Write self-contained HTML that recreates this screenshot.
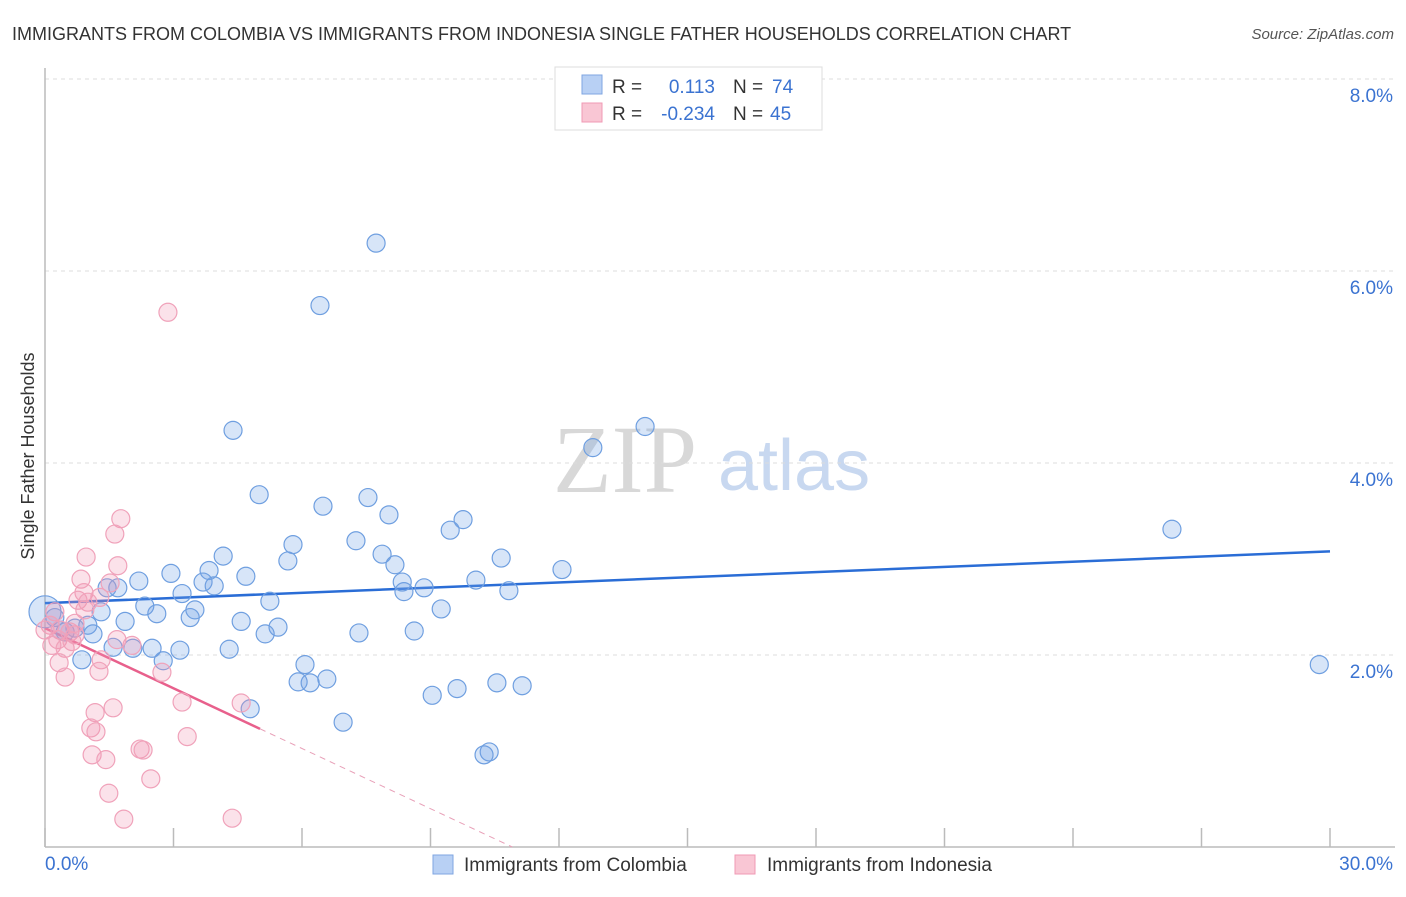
<!DOCTYPE html>
<html><head><meta charset="utf-8"><style>
body{margin:0;background:#fff;font-family:"Liberation Sans",sans-serif}
svg text{font-family:"Liberation Sans",sans-serif}
</style></head><body>
<svg id="chart" width="1406" height="892" viewBox="0 0 1406 892" xmlns="http://www.w3.org/2000/svg">
<text x="12" y="40" font-size="18" fill="#333">IMMIGRANTS FROM COLOMBIA VS IMMIGRANTS FROM INDONESIA SINGLE FATHER HOUSEHOLDS CORRELATION CHART</text>
<text x="1394" y="39" font-size="15" fill="#555" font-style="italic" text-anchor="end">Source: ZipAtlas.com</text>
<g>
<text x="553" y="492" font-size="96" fill="#d8d8d8" font-family="Liberation Serif" style="font-family:'Liberation Serif',serif">ZIP</text>
<text x="718" y="490" font-size="72" fill="#c8d8f0">atlas</text>
</g>
<g id="grid"></g>
<g id="axes"></g>
<text transform="translate(34,456) rotate(-90)" font-size="18" fill="#333" text-anchor="middle">Single Father Households</text>
<g id="trend"></g>
<g id="points"></g>
<g>
<rect x="555" y="67" width="267" height="63" fill="#fff" stroke="#ddd"/>
<rect x="582" y="75" width="20" height="19" fill="#b8d0f4" stroke="#7fa6e2"/>
<rect x="582" y="103" width="20" height="19" fill="#f9c6d4" stroke="#f09ab4"/>
<text x="612" y="93" font-size="19" fill="#333">R =</text>
<text x="715" y="93" font-size="19" fill="#3b73d1" text-anchor="end">0.113</text>
<text x="733" y="93" font-size="19" fill="#333">N =</text>
<text x="772" y="93" font-size="19" fill="#3b73d1">74</text>
<text x="612" y="120" font-size="19" fill="#333">R =</text>
<text x="715" y="120" font-size="19" fill="#3b73d1" text-anchor="end">-0.234</text>
<text x="733" y="120" font-size="19" fill="#333">N =</text>
<text x="770" y="120" font-size="19" fill="#3b73d1">45</text>
</g>
<g>
<rect x="433" y="855" width="20" height="19" fill="#b8d0f4" stroke="#7fa6e2"/>
<text x="464" y="871" font-size="19" fill="#333">Immigrants from Colombia</text>
<rect x="735" y="855" width="20" height="19" fill="#f9c6d4" stroke="#f09ab4"/>
<text x="767" y="871" font-size="19" fill="#333">Immigrants from Indonesia</text>
</g>
</svg>
<script>
const blueX=[7.73,6.42,4.39,14.01,12.79,5.00,6.49,7.54,8.03,9.76,9.46,7.26,5.79,7.87,10.65,5.67,4.16,8.17,12.07,2.94,3.83,4.69,2.19,3.69,3.95,10.06,8.34,8.85,8.38,10.83,3.20,1.70,1.45,5.25,2.33,3.50,9.25,1.31,2.61,3.39,4.58,1.87,5.44,1.00,1.12,5.14,7.33,8.62,0.35,0.47,0.23,3.15,2.50,1.59,2.05,4.30,2.76,0.86,6.07,5.91,6.19,6.58,10.55,9.62,9.04,11.14,6.96,4.79,10.37,10.25,26.31,29.75,0.70,0.0];
const blueY=[6.29,5.64,4.34,4.38,4.16,3.67,3.55,3.64,3.46,3.41,3.30,3.19,3.15,3.05,3.01,2.98,3.03,2.94,2.89,2.85,2.88,2.82,2.77,2.76,2.72,2.78,2.76,2.70,2.66,2.67,2.64,2.70,2.70,2.56,2.51,2.47,2.48,2.45,2.43,2.39,2.35,2.35,2.29,2.31,2.22,2.22,2.23,2.25,2.26,2.24,2.39,2.05,2.07,2.08,2.07,2.06,1.94,1.95,1.90,1.72,1.71,1.75,1.71,1.65,1.58,1.68,1.30,1.44,0.99,0.96,3.31,1.90,2.28,2.45];
const pinkX=[2.87,1.77,1.63,0.96,1.70,0.84,1.52,0.91,0.77,1.28,1.00,0.23,0.12,0.35,0.58,0.70,0.30,0.16,0.47,0.63,2.03,1.68,1.31,0.33,2.73,1.26,0.47,4.58,3.20,1.59,1.17,1.07,1.19,3.32,1.10,2.22,2.29,1.42,2.47,1.49,1.84,4.37,0.93,0.70,0.0];
const pinkY=[5.57,3.42,3.26,3.02,2.93,2.79,2.75,2.65,2.57,2.60,2.55,2.45,2.31,2.26,2.24,2.21,2.16,2.10,2.07,2.14,2.10,2.16,1.95,1.92,1.82,1.83,1.77,1.50,1.51,1.45,1.40,1.24,1.20,1.15,0.96,1.02,1.01,0.91,0.71,0.56,0.29,0.30,2.47,2.33,2.26];
const blueTrend=[2.54,3.08];   // y at x=0 and x=30
const pinkTrend=[2.28,-0.209]; // intercept, slope
const pinkSolidEnd=5.02;
const xTicks=[0,3,6,9,12,15,18,21,24,27,30];
const yTicks=[2,4,6,8];
const yTickLabels=["2.0%","4.0%","6.0%","8.0%"];

const X0=45,X1=1330,Y0=847,PXY=96;
const sx=v=>X0+(X1-X0)*v/30;
const sy=v=>Y0-v*PXY;
const NS="http://www.w3.org/2000/svg";
function mk(parent,tag,attrs){const e=document.createElementNS(NS,tag);for(const k in attrs)e.setAttribute(k,attrs[k]);document.getElementById(parent).appendChild(e);return e;}

let g=mk('grid','line',{x1:45,y1:79,x2:1395,y2:79,stroke:'#ddd','stroke-dasharray':'4,4'});


yTicks.forEach((t,i)=>{
  const l=mk('grid','line',{x1:45,y1:sy(t),x2:1395,y2:sy(t),stroke:'#ddd','stroke-dasharray':'4,4'});
  
  
  const tx=mk('grid','text',{x:1393,y:sy(t)+23,'font-size':19,fill:'#3b73d1','text-anchor':'end'});
  tx.textContent=yTickLabels[i];
  
  
});
let a=mk('axes','line',{x1:45,y1:68,x2:45,y2:847,stroke:'#bbb','stroke-width':1.5});


a=mk('axes','line',{x1:45,y1:847,x2:1395,y2:847,stroke:'#bbb','stroke-width':1.5});


xTicks.forEach(t=>{
  const l=mk('axes','line',{x1:sx(t),y1:828,x2:sx(t),y2:847,stroke:'#bbb','stroke-width':1.5});
  
  
});
let t0=mk('axes','text',{x:45,y:870,'font-size':19,fill:'#3b73d1'});t0.textContent=xTicks[0].toFixed(1)+'%';


let t1=mk('axes','text',{x:1393,y:870,'font-size':19,fill:'#3b73d1','text-anchor':'end'});t1.textContent=xTicks[xTicks.length-1].toFixed(1)+'%';



blueX.forEach((x,i)=>{
  const c=mk('points','circle',{cx:sx(x),cy:sy(blueY[i]),r:(x===0?16:9),fill:'rgba(110,160,230,0.28)',stroke:'#6f9fe0','stroke-width':1.2});
  
  
});
pinkX.forEach((x,i)=>{
  const c=mk('points','circle',{cx:sx(x),cy:sy(pinkY[i]),r:9,fill:'rgba(240,150,180,0.28)',stroke:'#f0a2ba','stroke-width':1.2});
  
  
});
let tl=mk('trend','line',{x1:sx(0),y1:sy(blueTrend[0]),x2:sx(30),y2:sy(blueTrend[1]),stroke:'#2a6dd6','stroke-width':2.5});


const pz=-pinkTrend[0]/pinkTrend[1];
tl=mk('trend','line',{x1:sx(0),y1:sy(pinkTrend[0]),x2:sx(pinkSolidEnd),y2:sy(pinkTrend[0]+pinkTrend[1]*pinkSolidEnd),stroke:'#e8608c','stroke-width':2.5});


tl=mk('trend','line',{x1:sx(pinkSolidEnd),y1:sy(pinkTrend[0]+pinkTrend[1]*pinkSolidEnd),x2:sx(pz),y2:sy(0),stroke:'#e8a0b8','stroke-width':1,'stroke-dasharray':'6,5'});


</script>
</body></html>
